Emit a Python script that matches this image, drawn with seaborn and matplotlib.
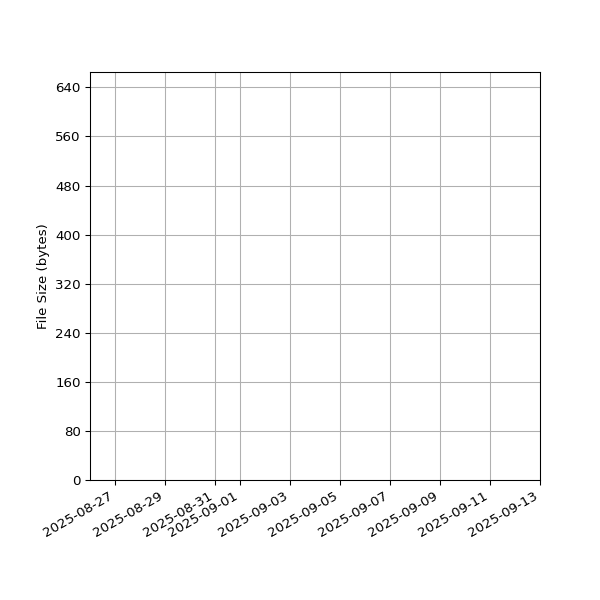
import matplotlib
matplotlib.use("Agg")
import matplotlib.pyplot as plt
import matplotlib.dates as mdates
import seaborn as sns
import pandas as pd
import numpy as np

# Data (the reference chart shows no plotted marks)
dates = pd.to_datetime(pd.Series([], dtype="datetime64[ns]"))
sizes = np.array([], dtype=float)

x_range = pd.to_datetime(["2025-08-26 00:00", "2025-09-13 00:00"])
y_range = [0, 665]
y_ticks = [0, 80, 160, 240, 320, 400, 480, 560, 640]

df = pd.DataFrame({"date": dates, "size": sizes})

fig, ax = plt.subplots(figsize=(6.25, 6.25), dpi=96)
sns.lineplot(data=df, x="date", y="size", ax=ax)

ax.set_xlim(x_range[0], x_range[1])
ax.set_ylim(*y_range)
ax.set_yticks(y_ticks)
ax.xaxis.set_major_locator(mdates.DayLocator(bymonthday=range(1, 32, 2)))
ax.xaxis.set_major_formatter(mdates.DateFormatter("%Y-%m-%d"))
ax.set_xlabel("")
ax.set_ylabel("File Size (bytes)")
ax.grid(True)
fig.autofmt_xdate()
fig.subplots_adjust(left=0.15, right=0.9, top=0.88, bottom=0.2)
fig.savefig("out.png", dpi=96)
